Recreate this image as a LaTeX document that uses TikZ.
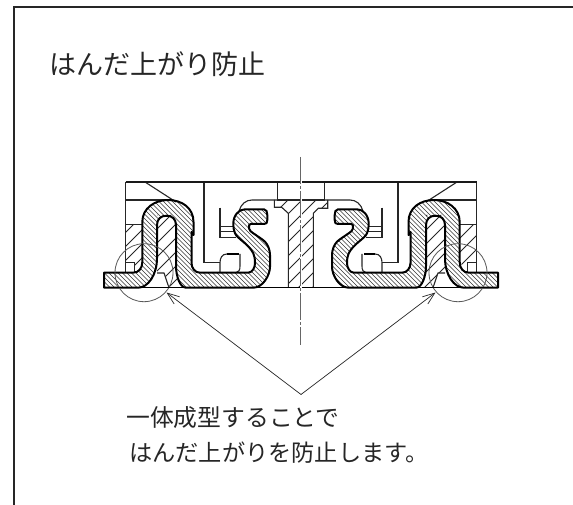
\documentclass[tikz,border=0pt]{standalone}
\usepackage{fontspec}
\usetikzlibrary{arrows.meta}
\newfontfamily\jpfont{Noto Sans CJK JP}
\tikzset{
  thinline/.style={line width=1.1pt,black!85},
  thickline/.style={line width=2pt,black,line join=round},
  hatchfine/.style={line width=0.6pt,black!80},
  hatchwide/.style={line width=0.9pt,black!85},
  circ/.style={line width=0.8pt,black!65},
  pointer/.style={line width=0.7pt,black!85,-{Straight Barb[length=12pt,width=9pt]}},
  label/.style={inner sep=0pt,anchor=west,text=black!85},
}
\newcommand\strippath{(104,272.7) -- (133,272.7) .. controls (139,272.7) and (142.3,268) .. (142.3,262) -- (142.3,222) .. controls (142.3,208) and (155,200) .. (168,200) .. controls (182,200) and (193.5,208) .. (193.5,222) -- (193.5,235) -- (191.5,232) -- (191.5,263) .. controls (191.5,268) and (195,272.7) .. (200,272.7) -- (248,272.7) .. controls (252,272.7) and (255,268) .. (255,263.3) .. controls (255,259) and (254.5,256) .. (253.3,253.3) .. controls (251,249) and (248,246) .. (245,243.3) .. controls (240,239) and (236,236) .. (235,233.3) .. controls (233.5,230) and (233.3,227) .. (233.3,223.3) .. controls (233.5,215) and (239,209.3) .. (245,209.3) -- (264,209.3) .. controls (266.5,209.3) and (267.3,212) .. (267.3,215) -- (267.3,220) .. controls (267.3,223) and (266.5,224) .. (264,224) -- (250.5,224) .. controls (249,224) and (248.7,226) .. (249,228.3) .. controls (249.5,230.5) and (251,232) .. (253.3,233.3) .. controls (258,236.5) and (262,239) .. (265,241.7) .. controls (268,245) and (270,250) .. (270,255) -- (270,266.7) .. controls (270,275) and (263,287.7) .. (253.3,287.7) -- (186,287.7) .. controls (180,287.7) and (176,276) .. (176,266) -- (176,225) .. controls (176,219) and (172,215.7) .. (166.5,215.7) .. controls (161,215.7) and (157,219) .. (157,225) -- (157,258) .. controls (157,275) and (148,287.7) .. (138,287.7) -- (104,287.7) -- cycle}
\newcommand\halfside[1]{%
  % resin, wide hatch
  \begin{scope}
    \clip (125.5,224.3) -- (142.3,224.3) -- (142.3,262) -- (134.3,272.7) -- (134.3,262.7) -- (125.5,262.7) -- cycle;
    \foreach \h in {-100,-86,...,500} \draw[hatchwide] (\h,290) -- ++(#1*100,-100);
  \end{scope}
  \begin{scope}
    \clip (157,215) -- (176,215) -- (176,266) .. controls (176,276) and (180,287.7) .. (186,287.7) -- (170,287.7) -- (164,273) -- (157,273) -- cycle;
    \foreach \h in {-100,-86,...,500} \draw[hatchwide] (\h,290) -- ++(#1*100,-100);
  \end{scope}
  % metal strip, fine hatch
  \begin{scope}
    \clip \strippath;
    \foreach \h in {-100,-95.5,...,500} \draw[hatchfine] (\h,190) -- ++(#1*100,100);
  \end{scope}
  % housing lines
  \draw[thinline] (125.5,182) -- (125.5,272.7);
  \draw[thinline] (125.5,200) -- (172,200);
  \draw[thinline] (125.5,224.3) -- (142.3,224.3);
  \draw[thinline] (125.5,262.7) -- (134.3,262.7) -- (134.3,272.7);
  \draw[thinline] (145,182) -- (176,202);
  \draw[thinline] (157,273) -- (164,273) -- (169,287.7);
  \draw[thinline] (204,182) -- (204,262.7) -- (220,262.7);
  \draw[thinline] (220,272.7) -- (220,262.7) .. controls (220,258) and (222,254) .. (227,254);
  \draw[line width=1.5pt] (227,254) -- (238.5,254);
  \draw[thinline] (240,254) -- (240,266) .. controls (240,270) and (239,272) .. (236,272.7);
  \draw[thinline] (220,207.7) -- (220,237.7) -- (236,237.7);
  \draw[thinline] (220,226.7) -- (233.5,226.7);
  \draw[thinline] (220,231.7) -- (234.5,231.7);
  \draw[thinline] (277.3,182) -- (277.3,200);
  \draw[thinline] (277.3,200) -- (252,200) .. controls (246,200) and (241,204) .. (239,211);
  \draw[thickline] \strippath;
  \draw[circ] (144,272.7) circle (29);
}
\begin{document}
\begin{tikzpicture}[x=1pt,y=-1pt]
\useasboundingbox (0,0) rectangle (573,505);
\fill[white] (0,0) rectangle (573,505);
% frame
\draw[line width=1.4pt,black!85] (14,505) -- (14,7) -- (573,7);
% centre T piece
\begin{scope}
  \clip (274.3,200) -- (327.7,200) -- (327.7,208.3) -- (318.3,208.3) -- (313.3,213.3) -- (313.3,287.7) -- (288.3,287.7) -- (288.3,213.3) -- (281.7,207.3) -- (274.3,207.3) -- cycle;
  \foreach \h in {100,114,...,500} \draw[hatchwide] (\h,290) -- ++(100,-100);
\end{scope}
\draw[thinline] (274.3,200) -- (274.3,207.3) -- (281.7,207.3) -- (288.3,213.3) -- (288.3,287.7);
\draw[thinline] (327.7,200) -- (327.7,208.3) -- (318.3,208.3) -- (313.3,213.3) -- (313.3,287.7);
\draw[thinline] (277.3,200) -- (324.7,200);
\halfside{1}
\begin{scope}[xshift=602pt,xscale=-1]
\halfside{-1}
\end{scope}
% top and bottom lines
\draw[line width=1.3pt,black!90] (125.5,182) -- (476.5,182);
\draw[line width=1.5pt] (104,287.7) -- (498,287.7);
% centre line
\coordinate (cltop) at (300.8,157);
\coordinate (clbot) at (300.8,345);
\draw[white,line width=1.4pt] (cltop) -- (clbot);
\draw[black!60,line width=1.2pt,dash pattern=on 27pt off 2pt on 3pt off 2pt] (cltop) -- (clbot);
% pointers
\coordinate (apex) at (301,394.5);
\coordinate (tipL) at (166.5,292.5);
\coordinate (tipR) at (435.5,292.5);
\draw[pointer] (apex) -- (tipL);
\draw[pointer] (apex) -- (tipR);
% text
\node[label,font=\jpfont\fontsize{27}{30}\selectfont] (title) at (49,64) {はんだ上がり防止};
\node[label,font=\jpfont\fontsize{23.8}{26}\selectfont] (line1) at (126,417.5) {一体成型することで};
\node[label,font=\jpfont\fontsize{23.2}{26}\selectfont] (line2) at (129,453) {はんだ上がりを防止します。};
\end{tikzpicture}
\end{document}
